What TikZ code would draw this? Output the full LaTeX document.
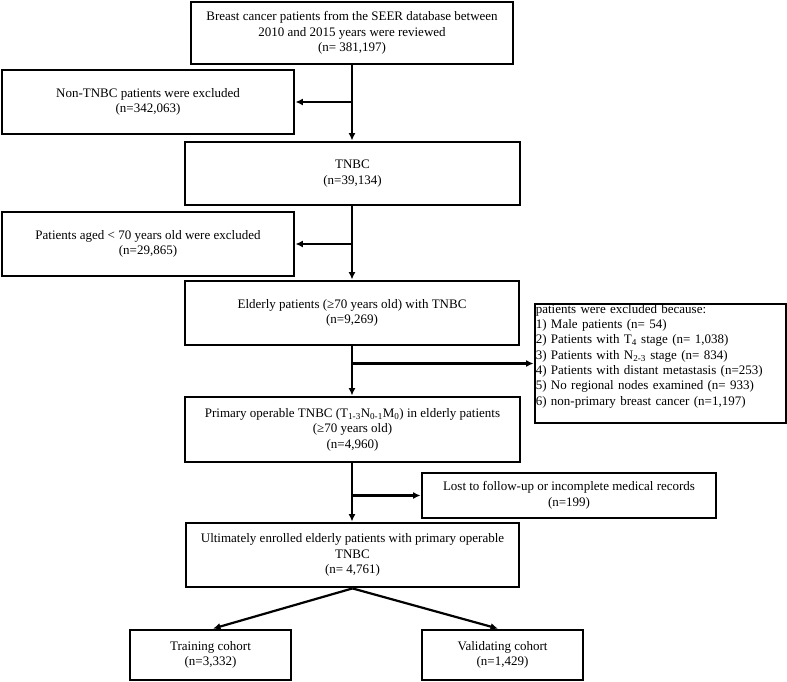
\documentclass[tikz,border=0pt]{standalone}
\usepackage{fontspec}
\setmainfont{Liberation Serif}
\usetikzlibrary{arrows.meta}
\begin{document}
\begin{tikzpicture}[x=1pt,y=-1pt,
  box/.style={draw, line width=2.8pt, align=center, inner sep=0pt,
    font=\fontsize{13}{15.5}\selectfont},
  plaintext/.style={inner sep=0pt, align=left, text width=248pt,
    font=\fontsize{13}{15.3}\selectfont},
  arr/.style={line width=2.2pt, -{Latex[length=7.5pt,width=7pt]}}]
\useasboundingbox (0,0) rectangle (787,682);
\fill[white] (0,0) rectangle (787,682);

\node[box, minimum width=322pt, minimum height=62pt] (b1) at (352,33)
  {Breast cancer patients from the SEER database between\\2010 and 2015 years were reviewed\\(n= 381,197)};
\node[box, minimum width=292pt, minimum height=64pt] (nontnbc) at (148,102)
  {Non-TNBC patients were excluded\\(n=342,063)};
\node[box, minimum width=335pt, minimum height=63pt] (tnbc) at (352.5,173.5)
  {TNBC\\(n=39,134)};
\node[box, minimum width=292pt, minimum height=64pt] (aged) at (148,244)
  {Patients aged < 70 years old were excluded\\(n=29,865)};
\node[box, minimum width=334pt, minimum height=64pt] (elderly) at (352,313)
  {Elderly patients (≥70 years old) with TNBC\\(n=9,269)};
\node[box, minimum width=251pt, minimum height=119pt] (excl) at (660.5,363.5) {};
\node[plaintext, anchor=north west] (excltxt) at ([xshift=2pt,yshift=-1.5pt]excl.north west)
  {patients were excluded because:\\
   1) Male patients (n= 54)\\
   2) Patients with T\textsubscript{4} stage (n= 1,038)\\
   3) Patients with N\textsubscript{2-3} stage (n= 834)\\
   4) Patients with distant metastasis (n=253)\\
   5) No regional nodes examined (n= 933)\\
   6) non-primary breast cancer (n=1,197)};
\node[box, minimum width=335pt, minimum height=65pt] (primary) at (352.5,429.5)
  {Primary operable TNBC (T\textsubscript{1-3}N\textsubscript{0-1}M\textsubscript{0}) in elderly patients\\(≥70 years old)\\(n=4,960)};
\node[box, minimum width=294pt, minimum height=45pt] (lost) at (569,495.5)
  {Lost to follow-up or incomplete medical records\\(n=199)};
\node[box, minimum width=333pt, minimum height=64pt] (ult) at (352.5,555)
  {Ultimately enrolled elderly patients with primary operable\\TNBC\\(n= 4,761)};
\node[box, minimum width=161pt, minimum height=50pt] (train) at (210.5,655)
  {Training cohort\\(n=3,332)};
\node[box, minimum width=161pt, minimum height=50pt] (valid) at (502.5,655)
  {Validating cohort\\(n=1,429)};

\coordinate (j1) at (b1.south |- nontnbc.east);
\coordinate (j2) at (b1.south |- aged.east);
\coordinate (j3) at (b1.south |- excl.west);
\coordinate (j4) at (b1.south |- lost.west);

\draw[arr] (b1.south) -- (b1.south |- tnbc.north);
\draw[arr] (j1) -- (nontnbc.east);
\draw[arr] (b1.south |- tnbc.south) -- (b1.south |- elderly.north);
\draw[arr] (j2) -- (aged.east);
\draw[arr] (b1.south |- elderly.south) -- (b1.south |- primary.north);
\draw[arr] (j3) -- (excl.west);
\draw[arr] (b1.south |- primary.south) -- (b1.south |- ult.north);
\draw[arr] (j4) -- (lost.west);
\draw[arr] (ult.south) -- ([xshift=2.5pt]train.north);
\draw[arr] (ult.south) -- ([xshift=-4.5pt]valid.north);
\end{tikzpicture}
\end{document}
